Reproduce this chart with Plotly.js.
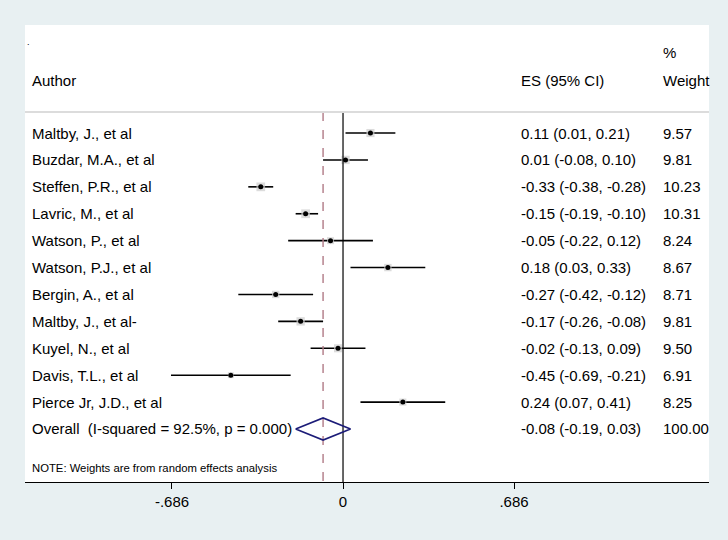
<!DOCTYPE html>
<html>
<head>
<meta charset="utf-8">
<script src="https://cdn.plot.ly/plotly-3.0.1.min.js"></script>
<style>html,body{margin:0;padding:0;background:#e8f0f2;}</style>
</head>
<body>
<div id="chart" style="width:728px;height:540px;"></div>
<script>
const authors = ["Maltby, J., et al","Buzdar, M.A., et al","Steffen, P.R., et al","Lavric, M., et al","Watson, P., et al","Watson, P.J., et al","Bergin, A., et al","Maltby, J., et al-","Kuyel, N., et al","Davis, T.L., et al","Pierce Jr, J.D., et al"];
const es = [0.11, 0.01, -0.33, -0.15, -0.05, 0.18, -0.27, -0.17, -0.02, -0.45, 0.24];
const lo = [0.01, -0.08, -0.38, -0.19, -0.22, 0.03, -0.42, -0.26, -0.13, -0.69, 0.07];
const hi = [0.21, 0.10, -0.28, -0.10, 0.12, 0.33, -0.12, -0.08, 0.09, -0.21, 0.41];
const weights = [9.57, 9.81, 10.23, 10.31, 8.24, 8.67, 8.71, 9.81, 9.50, 6.91, 8.25];
const overallLabel = "Overall\u00a0\u00a0(I-squared = 92.5%, p = 0.000)";
const overallES = -0.08, overallLo = -0.19, overallHi = 0.03, overallW = 100.00;
const tickVals = [-0.686, 0, 0.686];
const tickText = ["-.686", "0", ".686"];
const note = "NOTE: Weights are from random effects analysis";

const fmt = v => v.toFixed(2);
const rows = authors.map((a, i) => i);
const overallRow = authors.length;

const traces = [];
// CI lines
const ciX = [], ciY = [];
rows.forEach(i => { ciX.push(lo[i], hi[i], null); ciY.push(i, i, null); });
traces.push({x: ciX, y: ciY, mode: 'lines', line: {color: '#000', width: 1.6}, hoverinfo: 'skip'});
// weight boxes
traces.push({x: es, y: rows, mode: 'markers', marker: {symbol: 'square', size: weights.map(w => w * 0.85), color: '#cdcdcd', line: {width: 0}}, hoverinfo: 'skip'});
// point estimates
traces.push({x: es, y: rows, mode: 'markers', marker: {symbol: 'circle', size: 5, color: '#000'}, hoverinfo: 'skip'});
// null line at 0
traces.push({x: [0, 0], y: [-0.78, 13.2], mode: 'lines', line: {color: '#000', width: 1.2}, hoverinfo: 'skip'});
// overall effect dashed line
traces.push({x: [overallES, overallES], y: [-0.78, 13.2], mode: 'lines', line: {color: '#b07a86', width: 1.4, dash: 'dash'}, hoverinfo: 'skip'});
// overall diamond
traces.push({x: [overallLo, overallES, overallHi, overallES, overallLo], y: [overallRow, overallRow - 0.41, overallRow, overallRow + 0.41, overallRow], mode: 'lines', line: {color: '#1c1c78', width: 1.6}, fill: 'toself', fillcolor: 'rgba(255,255,255,0)', hoverinfo: 'skip'});

const px = p => (p - 25) / 684;
const fam = 'Liberation Sans, Arial, sans-serif';
const f = {family: fam, size: 15, color: '#000'};
const ann = [];
const add = (x, y, text, font) => ann.push({xref: 'paper', yref: 'y', x: px(x - 3), y: y, text: text, showarrow: false, xanchor: 'left', yanchor: 'middle', font: font || f});
authors.forEach((a, i) => {
  add(33, i, a);
  add(522, i, fmt(es[i]) + " (" + fmt(lo[i]) + ", " + fmt(hi[i]) + ")");
  add(664, i, fmt(weights[i]));
});
add(33, overallRow, overallLabel);
add(522, overallRow, fmt(overallES) + " (" + fmt(overallLo) + ", " + fmt(overallHi) + ")");
add(664, overallRow, overallW.toFixed(2));
add(33, -1.97, "Author");
add(522, -1.97, "ES (95% CI)");
add(664, -1.97, "Weight");
add(664, -3.0, "%");
add(28, -3.4, ".", {family: fam, size: 9, color: '#000'});
add(33, 12.45, note, {family: fam, size: 11.3, color: '#000'});

const layout = {
  width: 728, height: 540,
  margin: {l: 25, r: 19, t: 25, b: 58},
  paper_bgcolor: '#e8f0f2',
  plot_bgcolor: '#ffffff',
  showlegend: false,
  xaxis: {range: [-1.2756, 1.468], tickvals: tickVals, ticktext: tickText, ticks: 'outside', ticklen: 6, tickcolor: '#000', tickwidth: 1,
          showline: true, linecolor: '#000', linewidth: 1.2, showgrid: false, zeroline: false, tickfont: {family: fam, size: 15, color: '#000'}, fixedrange: true},
  yaxis: {range: [12.97, -4.015], showgrid: false, zeroline: false, showticklabels: false, ticks: '', showline: false, fixedrange: true},
  shapes: [{type: 'line', xref: 'paper', yref: 'y', x0: 0, x1: 1, y0: -0.78, y1: -0.78, line: {color: '#dcdcdc', width: 2}}],
  annotations: ann
};
Plotly.newPlot('chart', traces, layout, {displayModeBar: false, staticPlot: true});
</script>
</body>
</html>
